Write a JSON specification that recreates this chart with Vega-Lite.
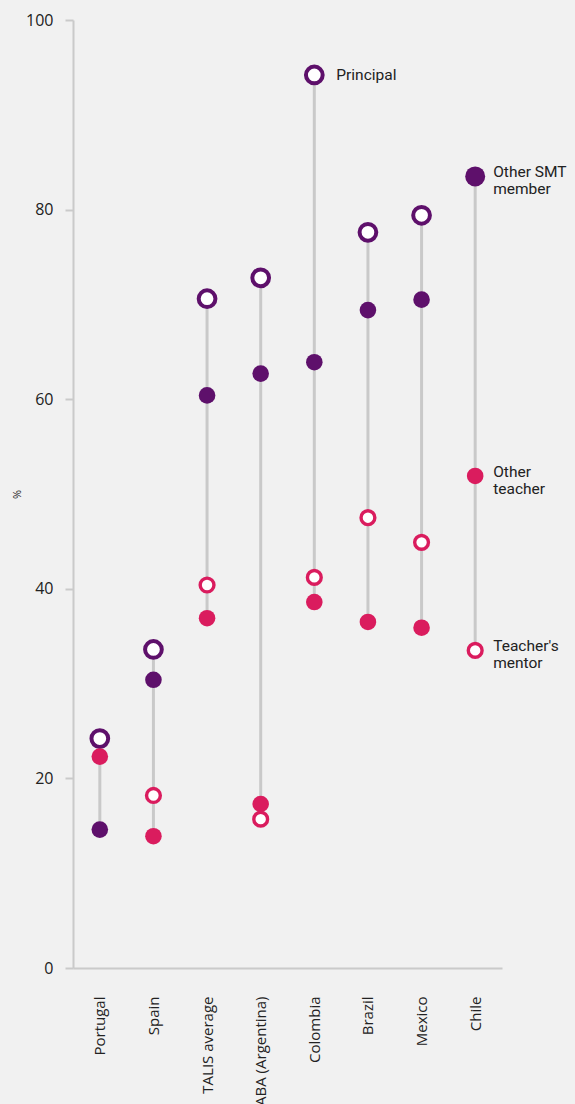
{
  "$schema": "https://vega.github.io/schema/vega-lite/v6.json",
  "autosize": {"type": "none"},
  "padding": {"left": 73, "top": 20, "right": 73, "bottom": 136},
  "width": 429,
  "height": 948,
  "background": "#f1f1f1",
  "config": {
    "view": {"stroke": null},
    "font": "Open Sans",
    "axis": {"grid": false, "domainColor": "#cacaca", "domainWidth": 2, "tickColor": "#cacaca", "tickWidth": 2, "labelColor": "#222222", "labelFont": "Open Sans", "labelFontSize": 16}
  },
  "data": {
    "values": [
      {"country": "Portugal", "role": "Principal", "value": 24.2},
      {"country": "Portugal", "role": "Other teacher", "value": 22.3},
      {"country": "Portugal", "role": "Other SMT member", "value": 14.6},
      {"country": "Spain", "role": "Principal", "value": 33.6},
      {"country": "Spain", "role": "Other SMT member", "value": 30.4},
      {"country": "Spain", "role": "Teacher's mentor", "value": 18.2},
      {"country": "Spain", "role": "Other teacher", "value": 13.9},
      {"country": "TALIS average", "role": "Principal", "value": 70.6},
      {"country": "TALIS average", "role": "Other SMT member", "value": 60.4},
      {"country": "TALIS average", "role": "Teacher's mentor", "value": 40.4},
      {"country": "TALIS average", "role": "Other teacher", "value": 36.9},
      {"country": "CABA (Argentina)", "role": "Principal", "value": 72.8},
      {"country": "CABA (Argentina)", "role": "Other SMT member", "value": 62.7},
      {"country": "CABA (Argentina)", "role": "Other teacher", "value": 17.3},
      {"country": "CABA (Argentina)", "role": "Teacher's mentor", "value": 15.7},
      {"country": "Colombia", "role": "Principal", "value": 94.2, "label": "Principal"},
      {"country": "Colombia", "role": "Other SMT member", "value": 63.9},
      {"country": "Colombia", "role": "Teacher's mentor", "value": 41.2},
      {"country": "Colombia", "role": "Other teacher", "value": 38.6},
      {"country": "Brazil", "role": "Principal", "value": 77.6},
      {"country": "Brazil", "role": "Other SMT member", "value": 69.4},
      {"country": "Brazil", "role": "Teacher's mentor", "value": 47.5},
      {"country": "Brazil", "role": "Other teacher", "value": 36.5},
      {"country": "Mexico", "role": "Principal", "value": 79.4},
      {"country": "Mexico", "role": "Other SMT member", "value": 70.5},
      {"country": "Mexico", "role": "Teacher's mentor", "value": 44.9},
      {"country": "Mexico", "role": "Other teacher", "value": 35.9},
      {"country": "Chile", "role": "Other SMT member", "value": 83.5, "label": "Other SMT\nmember"},
      {"country": "Chile", "role": "Other teacher", "value": 51.9, "label": "Other\nteacher"},
      {"country": "Chile", "role": "Teacher's mentor", "value": 33.5, "label": "Teacher's\nmentor"}
    ]
  },
  "encoding": {
    "x": {
      "field": "country", "type": "nominal", "sort": null,
      "scale": {"type": "point", "padding": 0.5},
      "axis": {"title": null, "ticks": false, "labelAngle": -90, "labelAlign": "right", "labelBaseline": "middle", "labelPadding": 28, "labelFontSize": 15}
    },
    "y": {
      "field": "value", "type": "quantitative",
      "scale": {"domain": [0, 100], "nice": false, "zero": true},
      "axis": {"title": "%", "titleFontSize": 11, "titleFontWeight": "normal", "titleColor": "#222222", "titleX": -51, "titleY": 474, "titleAngle": -90, "values": [0, 20, 40, 60, 80, 100], "tickSize": 8, "labelPadding": 12}
    }
  },
  "layer": [
    {
      "mark": {"type": "rule", "color": "#c9c9c9", "strokeWidth": 3},
      "encoding": {
        "y": {"aggregate": "min", "field": "value", "type": "quantitative"},
        "y2": {"aggregate": "max", "field": "value"}
      }
    },
    {
      "transform": [{"filter": "datum.role === 'Principal'"}],
      "mark": {"type": "point", "shape": "circle", "filled": false, "fill": "#ffffff", "fillOpacity": 1, "opacity": 1, "strokeWidth": 4, "size": 280, "color": "#5e106b"}
    },
    {
      "transform": [{"filter": "datum.role === 'Other SMT member' || datum.role === 'Other teacher'"}],
      "mark": {"type": "circle", "opacity": 1},
      "encoding": {
        "color": {"field": "role", "type": "nominal", "legend": null, "scale": {"domain": ["Other SMT member", "Other teacher"], "range": ["#5e106b", "#da1c5e"]}},
        "size": {"condition": {"test": "datum.country === 'Chile' && datum.role === 'Other SMT member'", "value": 400}, "value": 275}
      }
    },
    {
      "transform": [{"filter": "datum.role === \"Teacher's mentor\""}],
      "mark": {"type": "point", "shape": "circle", "filled": false, "fill": "#ffffff", "fillOpacity": 1, "opacity": 1, "strokeWidth": 3.4, "size": 190, "color": "#da1c5e"}
    },
    {
      "transform": [{"filter": "datum.label != null && datum.country === 'Chile'"}],
      "mark": {"type": "text", "align": "left", "baseline": "middle", "dx": 18, "dy": -4, "font": "Roboto", "fontSize": 15.5, "lineHeight": 17, "lineBreak": "\n", "color": "#222222"},
      "encoding": {"text": {"field": "label"}}
    },
    {
      "transform": [{"filter": "datum.label != null && datum.country !== 'Chile'"}],
      "mark": {"type": "text", "align": "left", "baseline": "middle", "dx": 22, "dy": 0, "font": "Roboto", "fontSize": 15.5, "color": "#222222"},
      "encoding": {"text": {"field": "label"}}
    }
  ]
}
